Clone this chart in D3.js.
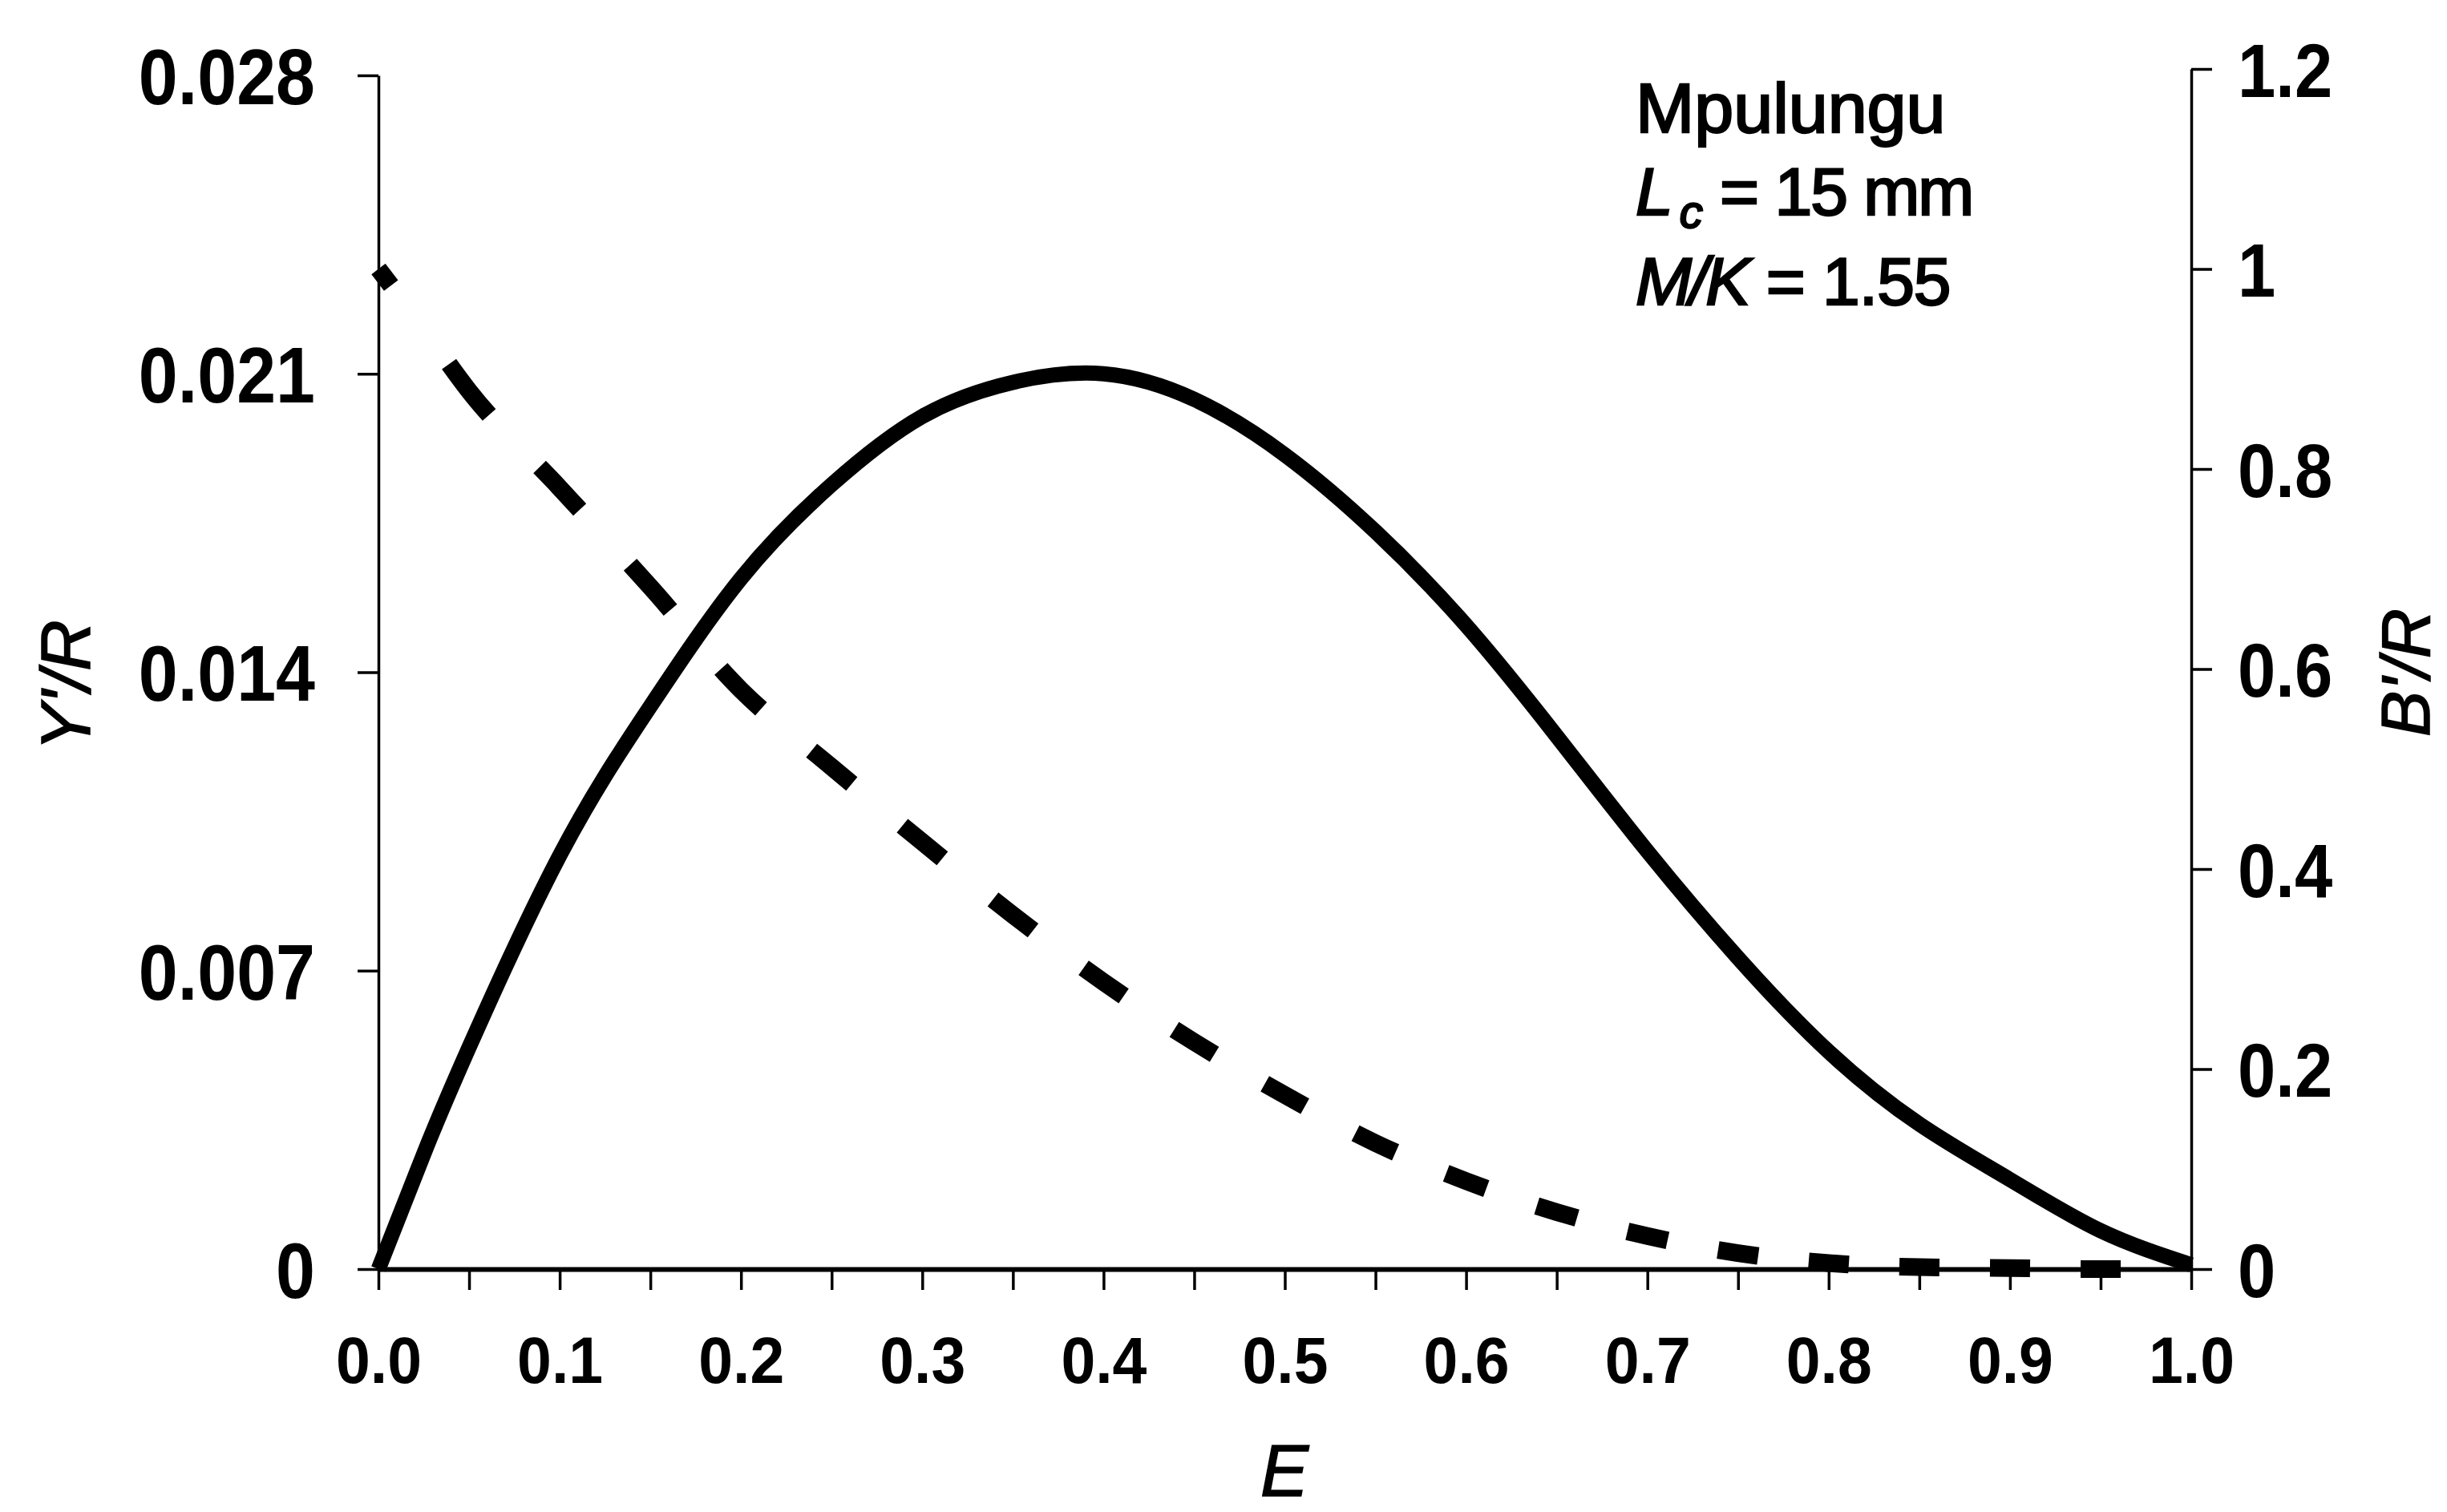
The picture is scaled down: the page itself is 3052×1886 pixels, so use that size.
<!DOCTYPE html>
<html><head><meta charset="utf-8">
<script src="https://cdn.jsdelivr.net/npm/d3@7"></script>
<style>
html,body{margin:0;padding:0;background:#fff;}
svg{display:block;background:#fff;}
text{font-family:"Liberation Sans",Arial,Helvetica,sans-serif;fill:#000;}
</style></head><body>
<svg id="chart" width="3052" height="1886"></svg>
<script>
// ---- data ----
const effort = [0, 0.025, 0.05, 0.1, 0.15, 0.2, 0.25, 0.3, 0.35, 0.4, 0.45, 0.5, 0.55, 0.6, 0.65, 0.7, 0.75, 0.8, 0.85, 0.9, 0.95, 1.0];
const yieldPerRecruit = [0, 0.0027, 0.0052, 0.0097, 0.0132, 0.0162, 0.0184, 0.0200, 0.0208, 0.0210, 0.0204, 0.0191, 0.0173, 0.0151, 0.0125, 0.0098, 0.0073, 0.0051, 0.0034, 0.0021, 0.0009, 0.0001];
const biomassPerRecruit = [1.0, 0.94, 0.878, 0.781, 0.682, 0.579, 0.502, 0.427, 0.354, 0.287, 0.227, 0.174, 0.126, 0.088, 0.057, 0.033, 0.016, 0.006, 0.002, 0.001, 0, 0];

const xTickValues = [0, 0.05, 0.1, 0.15, 0.2, 0.25, 0.3, 0.35, 0.4, 0.45, 0.5, 0.55, 0.6, 0.65, 0.7, 0.75, 0.8, 0.85, 0.9, 0.95, 1.0];
const xTickLabels = ["0.0", "", "0.1", "", "0.2", "", "0.3", "", "0.4", "", "0.5", "", "0.6", "", "0.7", "", "0.8", "", "0.9", "", "1.0"];
const leftTickValues = [0, 0.007, 0.014, 0.021, 0.028];
const leftTickLabels = ["0", "0.007", "0.014", "0.021", "0.028"];
const rightTickValues = [0, 0.2, 0.4, 0.6, 0.8, 1, 1.2];
const rightTickLabels = ["0", "0.2", "0.4", "0.6", "0.8", "1", "1.2"];
const dashCenters = [0.05, 0.1, 0.15, 0.2, 0.25, 0.3, 0.35, 0.4, 0.45, 0.5, 0.55, 0.6, 0.65, 0.7, 0.75, 0.8, 0.85, 0.9, 0.95];

const xTitle = "E";
const leftTitle = "Y'/R";
const rightTitle = "B'/R";
const siteName = "Mpulungu";
const lcSymbol = "L", lcSub = "c", lcValue = " = 15 mm";
const mkSymbol = "M/K", mkValue = " = 1.55";

// ---- layout ----
const svg = d3.select("#chart");
const x = d3.scaleLinear().domain([0, 1]).range([472, 2733]);
const yL = d3.scaleLinear().domain([0, 0.028]).range([1583, 94]);
const yR = d3.scaleLinear().domain([0, 1.2]).range([1583, 86]);

// x axis
const gx = svg.append("g").attr("transform", "translate(0,1583)")
  .call(d3.axisBottom(x).tickValues(xTickValues).tickSize(26).tickSizeOuter(0)
    .tickFormat((d, i) => xTickLabels[i]));
gx.attr("font-size", null).attr("font-family", null);
gx.select(".domain").attr("stroke", "#000").attr("stroke-width", 6);
gx.selectAll(".tick line").attr("stroke", "#000").attr("stroke-width", 3.5);
gx.selectAll(".tick text")
  .attr("font-size", 77).attr("font-weight", "bold")
  .attr("y", 142 / 1.06).attr("dy", 0)
  .attr("transform", "scale(1,1.06)");

// left axis
const gl = svg.append("g").attr("transform", "translate(472,0)")
  .call(d3.axisLeft(yL).tickValues(leftTickValues).tickSize(26).tickSizeOuter(0)
    .tickFormat((d, i) => leftTickLabels[i]));
gl.attr("font-size", null).attr("font-family", null);
gl.select(".domain").attr("stroke", "#000").attr("stroke-width", 3.5);
gl.selectAll(".tick line").attr("stroke", "#000").attr("stroke-width", 3.5);
gl.selectAll(".tick text")
  .attr("font-size", 88).attr("font-weight", "bold")
  .attr("x", -79).attr("dy", "0.36em")
  .attr("transform", "scale(1,1.12)");

// right axis
const gr = svg.append("g").attr("transform", "translate(2733,0)")
  .call(d3.axisRight(yR).tickValues(rightTickValues).tickSize(26).tickSizeOuter(0)
    .tickFormat((d, i) => rightTickLabels[i]));
gr.attr("font-size", null).attr("font-family", null);
gr.select(".domain").attr("stroke", "#000").attr("stroke-width", 3.5);
gr.selectAll(".tick line").attr("stroke", "#000").attr("stroke-width", 3.5);
gr.selectAll(".tick text")
  .attr("font-size", 85).attr("font-weight", "bold")
  .attr("x", 58).attr("dy", "0.36em")
  .attr("transform", "scale(1,1.12)");

// series
const pts = effort.map((e, i) => ({e, y: yieldPerRecruit[i], b: biomassPerRecruit[i]}));

const dashed = svg.append("path").datum(pts)
  .attr("fill", "none").attr("stroke", "#000").attr("stroke-width", 22)
  .attr("stroke-linecap", "butt")
  .attr("d", d3.line().x(d => x(d.e)).y(d => yR(d.b)).curve(d3.curveMonotoneX));

// dash pattern: dashes centred on every 0.05 of E, as in the reference
(function () {
  const node = dashed.node();
  const total = node.getTotalLength();
  function lenAtX(px) {
    let lo = 0, hi = total;
    for (let k = 0; k < 40; k++) {
      const m = (lo + hi) / 2;
      if (node.getPointAtLength(m).x < px) lo = m; else hi = m;
    }
    return (lo + hi) / 2;
  }
  const half = 25;
  const spans = [[0, lenAtX(x(0.007))]];
  dashCenters.forEach(c => spans.push([lenAtX(x(c) - half), lenAtX(x(c) + half)]));
  const arr = [];
  let pos = 0;
  spans.forEach((s, i) => {
    if (i > 0) arr.push(s[0] - pos);
    arr.push(s[1] - s[0]);
    pos = s[1];
  });
  arr.push(total + 10);
  dashed.attr("stroke-dasharray", arr.map(v => v.toFixed(2)).join(" "));
})();

svg.append("path").datum(pts)
  .attr("fill", "none").attr("stroke", "#000").attr("stroke-width", 19)
  .attr("stroke-linejoin", "round")
  .attr("d", d3.line().x(d => x(d.e)).y(d => yL(d.y)).curve(d3.curveNatural));

// axis titles
svg.append("text").attr("x", 1602).attr("y", 1866).attr("text-anchor", "middle")
  .attr("font-size", 90).attr("font-style", "italic")
  .attr("stroke", "#000").attr("stroke-width", 1.5).text(xTitle);
svg.append("text").attr("transform", "translate(112,855) rotate(-90)").attr("text-anchor", "middle")
  .attr("font-size", 88).attr("font-style", "italic")
  .attr("stroke", "#000").attr("stroke-width", 1.5).text(leftTitle);
svg.append("text").attr("transform", "translate(3030,839) rotate(-90)").attr("text-anchor", "middle")
  .attr("font-size", 86).attr("font-style", "italic")
  .attr("stroke", "#000").attr("stroke-width", 1.5).text(rightTitle);

// annotation
const ann = svg.append("g").attr("font-size", 84).attr("stroke", "#000").attr("stroke-width", 2.5);
ann.append("text").attr("x", 2040).attr("y", 165).attr("font-size", 88).text(siteName);
const t2 = ann.append("text").attr("x", 2040).attr("y", 268);
t2.append("tspan").attr("font-style", "italic").text(lcSymbol);
t2.append("tspan").attr("font-style", "italic").attr("font-size", 58).attr("dx", 8).attr("dy", 16).text(lcSub);
t2.append("tspan").attr("dy", -16).attr("letter-spacing", -2).text(lcValue);
const t3 = ann.append("text").attr("x", 2040).attr("y", 380);
t3.append("tspan").attr("font-style", "italic").attr("letter-spacing", -3).text(mkSymbol);
t3.append("tspan").attr("letter-spacing", -1).text(mkValue);
</script>
</body></html>
